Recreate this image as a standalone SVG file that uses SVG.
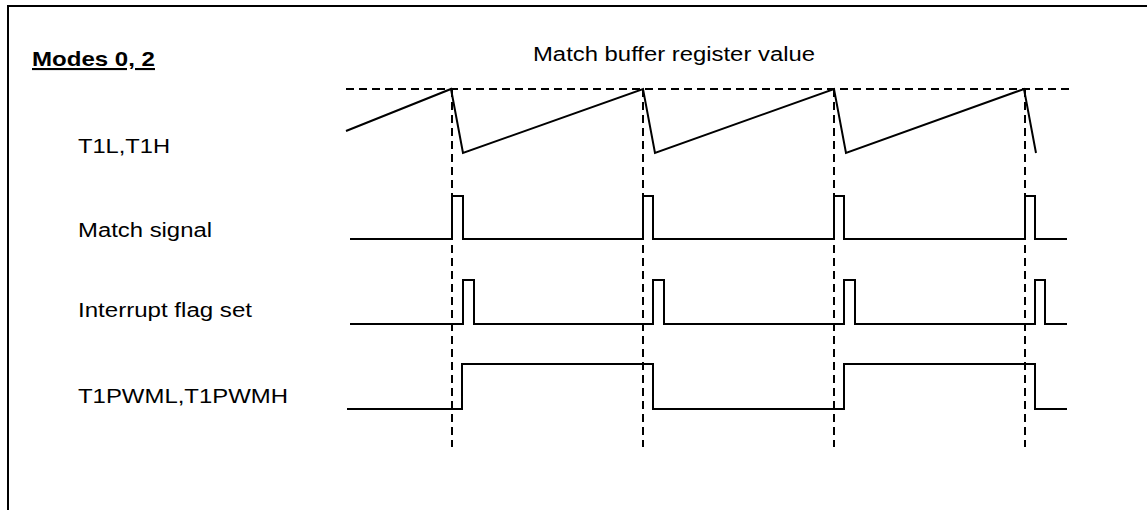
<svg xmlns="http://www.w3.org/2000/svg" width="1147" height="510" viewBox="0 0 1147 510">
<style>
.lbl{font-family:"Liberation Sans",Arial,sans-serif;font-size:20px;fill:#000}
.ttl{font-family:"Liberation Sans",Arial,sans-serif;font-size:21px;font-weight:bold;fill:#000;text-decoration:underline}
.wave{fill:none;stroke:#000;stroke-width:2;stroke-linejoin:miter}
.dash{fill:none;stroke:#000;stroke-width:2;stroke-dasharray:8 5}
</style>
<rect x="0" y="0" width="1147" height="510" fill="#fff"/>
<path d="M8,530 V6 H1160" fill="none" stroke="#000" stroke-width="2"/>
<g id="title"><text class="ttl" x="32" y="66" textLength="123" lengthAdjust="spacingAndGlyphs">Modes 0, 2</text></g>
<g id="match-buffer-label"><text class="lbl" x="533" y="61" textLength="282" lengthAdjust="spacingAndGlyphs">Match buffer register value</text></g>
<g id="connectors">
<path class="dash" d="M346,89 H1070"/>
<path class="dash" d="M452,89 V447"/>
<path class="dash" d="M643,89 V447"/>
<path class="dash" d="M834,89 V447"/>
<path class="dash" d="M1025,89 V447"/>
</g>
<g id="t1l-t1h">
<text class="lbl" x="78" y="153" textLength="92" lengthAdjust="spacingAndGlyphs">T1L,T1H</text>
<path class="wave" d="M346,131 L451,89 L463,153 L643,89 L655,153 L834,89 L846,153 L1024,89 L1036,153"/>
</g>
<g id="match-signal">
<text class="lbl" x="78" y="237" textLength="134" lengthAdjust="spacingAndGlyphs">Match signal</text>
<path class="wave" d="M350,239 H452 V196 H463 V239 H643 V196 H653 V239 H834 V196 H844 V239 H1025 V196 H1035 V239 H1067"/>
</g>
<g id="interrupt-flag">
<text class="lbl" x="78" y="317" textLength="174" lengthAdjust="spacingAndGlyphs">Interrupt flag set</text>
<path class="wave" d="M350,324 H463 V280 H474 V324 H653 V280 H664 V324 H844 V280 H855 V324 H1035 V280 H1045 V324 H1067"/>
</g>
<g id="t1pwm">
<text class="lbl" x="78" y="403" textLength="210" lengthAdjust="spacingAndGlyphs">T1PWML,T1PWMH</text>
<path class="wave" d="M347,409 H462 V364 H653 V409 H844 V364 H1035 V409 H1067"/>
</g>
</svg>
